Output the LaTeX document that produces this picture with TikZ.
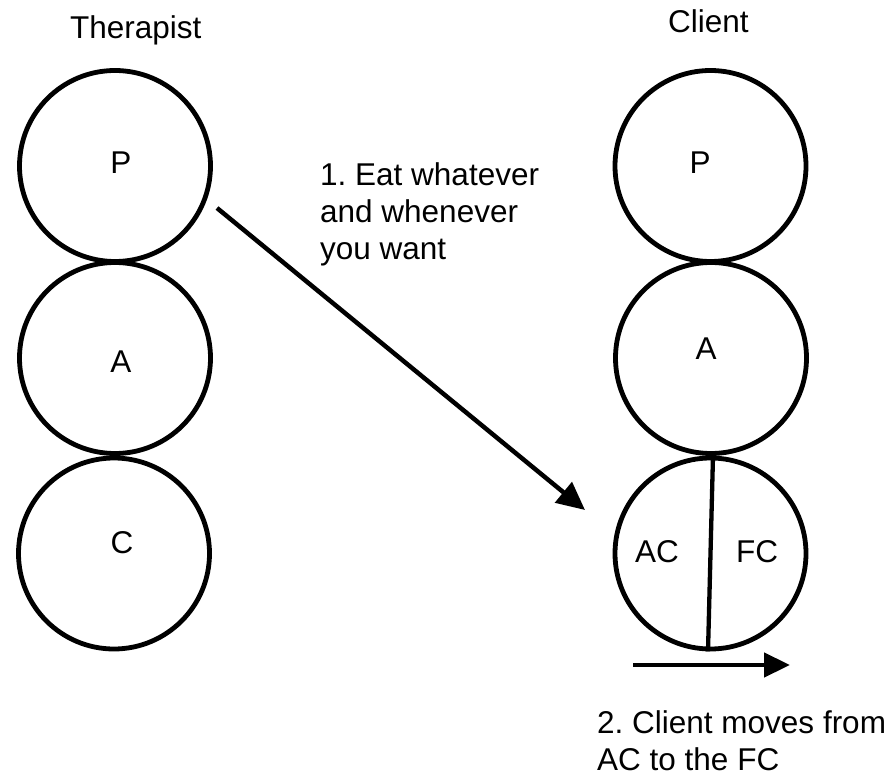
\documentclass[tikz,border=0pt]{standalone}
\usepackage{fontspec}
\setmainfont{Liberation Sans}
\usetikzlibrary{arrows.meta}
\frenchspacing
\begin{document}
\begin{tikzpicture}[x=1pt,y=-1pt,
  every node/.style={font=\fontsize{31.5}{37}\selectfont},
  ego/.style={circle,draw,line width=4.8pt,minimum size=191pt,inner sep=0pt},
  tag/.style={inner sep=0pt},
  note/.style={inner sep=0pt,align=left,anchor=base west},
  link/.style={line width=4.5pt,-{Triangle[length=28pt,width=26pt]}},
  cut/.style={line width=4.3pt}
]
\useasboundingbox (0,0) rectangle (894,775);

% column headings
\node[tag,anchor=base west] (thT) at (70,39) {Therapist};
\node[tag,anchor=base west] (clT) at (668,33) {Client};

% therapist ego states
\node[ego] (tP) at (115,166) {};
\node[ego] (tA) at (115,358) {};
\node[ego] (tC) at (114,553.5) {};
\node[tag] (tPl) at (121,163) {P};
\node[tag] (tAl) at (121,362) {A};
\node[tag] (tCl) at (122,543) {C};

% client ego states
\node[ego] (cP) at (710.5,166) {};
\node[ego] (cA) at (711,358) {};
\node[ego] (cC) at (710.5,553.5) {};
\node[tag] (cPl) at (700,163) {P};
\node[tag] (cAl) at (706,349) {A};
\node[tag] (cACl) at (657,552) {AC};
\node[tag] (cFCl) at (757,552) {FC};

% child split into adapted / free child
\draw[cut] ([xshift=2.5pt]cC.north) -- ([xshift=-2.5pt]cC.south);

% message from therapist parent to client child
\coordinate (m1s) at (217,208);
\coordinate (m1e) at (585,510);
\draw[link] (m1s) -- (m1e);
\node[note] (m1) at (320,260) {1. Eat whatever\\and whenever\\you want};

% shift from adapted to free child
\coordinate (m2s) at (633,665);
\coordinate (m2e) at (790,665);
\draw[link,-{Triangle[length=26pt,width=24pt]}] (m2s) -- (m2e);
\node[note] (m2) at (597,770) {2. Client moves from\\AC to the FC};
\end{tikzpicture}
\end{document}
